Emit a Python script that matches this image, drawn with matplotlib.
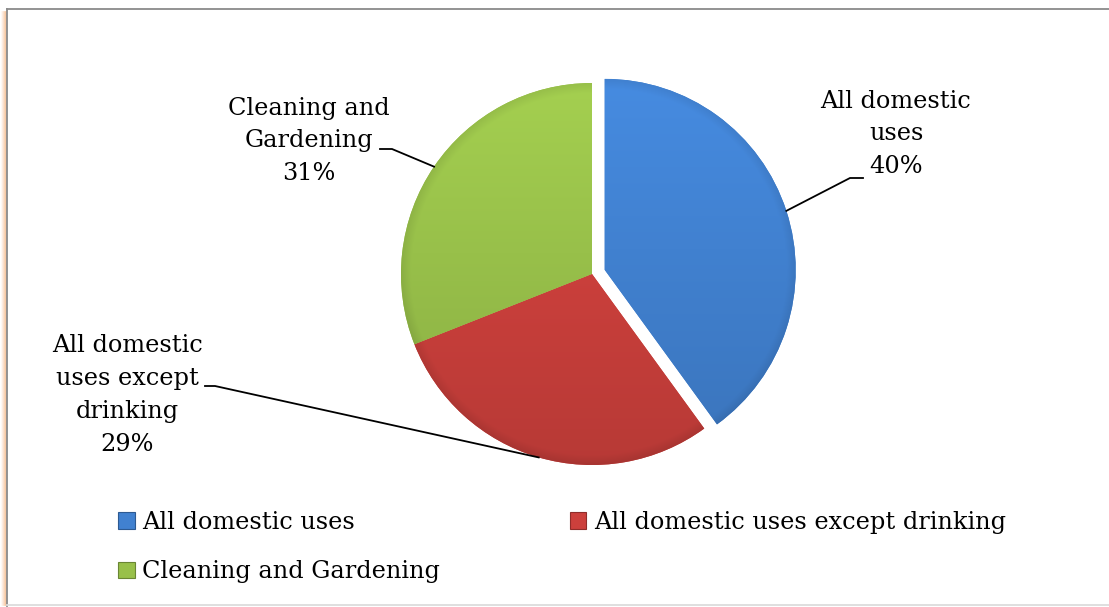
import numpy as np
import matplotlib.pyplot as plt
from matplotlib.colors import to_rgb
from matplotlib.patches import Rectangle
from matplotlib.lines import Line2D

# water use categories and their shares (%)
categories = ["All domestic uses", "All domestic uses except drinking", "Cleaning and Gardening"]
shares = [40, 29, 31]
slice_labels = ["All domestic\nuses", "All domestic\nuses except\ndrinking", "Cleaning and\nGardening"]
colors = ["#4181d0", "#cc403c", "#98c04a"]
explode = [0.07, 0, 0]

W, H = 1109, 607
CX, CY, R = 592, 274, 191  # pie centre / radius in pixels


def px(x, y):
    # pixel position -> pie units
    return (x - CX) / R, (CY - y) / R


plt.rcParams["font.family"] = ["DejaVu Serif"]
FS = 17.3

fig = plt.figure(figsize=(W / 100, H / 100), dpi=100)
ax = fig.add_axes([0, 0, 1, 1])

wedges, _ = ax.pie(shares, colors=colors, startangle=90, counterclock=False,
                   explode=explode, radius=1, center=(0, 0),
                   wedgeprops=dict(linewidth=0))
ax.set_xlim(-CX / R, (W - CX) / R)
ax.set_ylim((CY - H) / R, CY / R)
ax.axis("off")

# gradient + rim shading clipped to each wedge
n = 300
yy, xx = np.mgrid[1:-1:n * 1j, -1:1:n * 1j]
dist = np.hypot(xx, yy)
for w, c in zip(wedges, colors):
    base = np.array(to_rgb(c))
    shade = 1.08 - 0.18 * (1 - yy) / 2
    rim = np.clip((dist - 0.95) / 0.05, 0, 1)
    shade = shade - 0.08 * rim
    img = np.clip(base[None, None, :] * shade[:, :, None], 0, 1)
    cx, cy = w.center
    im = ax.imshow(img, extent=[cx - w.r, cx + w.r, cy - w.r, cy + w.r],
                   zorder=w.get_zorder() + 0.1, interpolation="bilinear")
    im.set_clip_path(w)
    w.set_edgecolor((base * 0.8).tolist())

# data labels with leader lines
label_pos = [(896, 134), (127, 395), (309, 141)]
elbows = [[(850, 178), (863, 178)], [(215, 386), (205, 386)], [(392, 149), (380, 149)]]
for w, text, share, pos, elbow in zip(wedges, slice_labels, shares, label_pos, elbows):
    mid = np.deg2rad((w.theta1 + w.theta2) / 2)
    cx, cy = w.center
    anchor = (cx + w.r * np.cos(mid), cy + w.r * np.sin(mid))
    pts = [anchor] + [px(*p) for p in elbow]
    ax.plot([p[0] for p in pts], [p[1] for p in pts], color="black", lw=1.3,
            solid_joinstyle="miter", zorder=5)
    tx, ty = px(*pos)
    ax.text(tx, ty, f"{text}\n{share}%", ha="center", va="center",
            multialignment="center", fontsize=FS, linespacing=1.55)

# legend: blue and red on the first row, green below
handles = [Rectangle((0, 0), 1, 1, facecolor=c, edgecolor=(np.array(to_rgb(c)) * 0.7).tolist(), lw=0.8)
           for c in colors]
order = [0, 2, 1]
ax.legend([handles[i] for i in order], [categories[i] for i in order], ncol=2,
          loc="upper left", bbox_to_anchor=(118 / W, 1 - 511 / H),
          bbox_transform=fig.transFigure, frameon=False, fontsize=FS,
          borderpad=0, borderaxespad=0, handlelength=0.7, handleheight=0.7,
          handletextpad=0.3, columnspacing=5.4, labelspacing=1.1)

# chart-area border with an orange glow on the left
for i, a in enumerate([0.08, 0.15, 0.25, 0.35, 0.45]):
    x = (2 + i) / W
    fig.add_artist(Line2D([x, x], [1 - 12 / H, 1 - 605 / H], color="#f3a060",
                          alpha=a, lw=1.2, transform=fig.transFigure))
fig.add_artist(Line2D([7 / W, 7 / W], [1 - 9 / H, 1 - 606 / H], color="#8a8a8a",
                      lw=1.3, transform=fig.transFigure))
fig.add_artist(Line2D([7 / W, 1], [1 - 9 / H, 1 - 9 / H], color="#8a8a8a",
                      lw=1.3, transform=fig.transFigure))
fig.add_artist(Line2D([7 / W, 1], [1 - 605 / H, 1 - 605 / H], color="#dcdcdc",
                      lw=1.3, transform=fig.transFigure))

fig.savefig("out.png", dpi=100, facecolor="white")
